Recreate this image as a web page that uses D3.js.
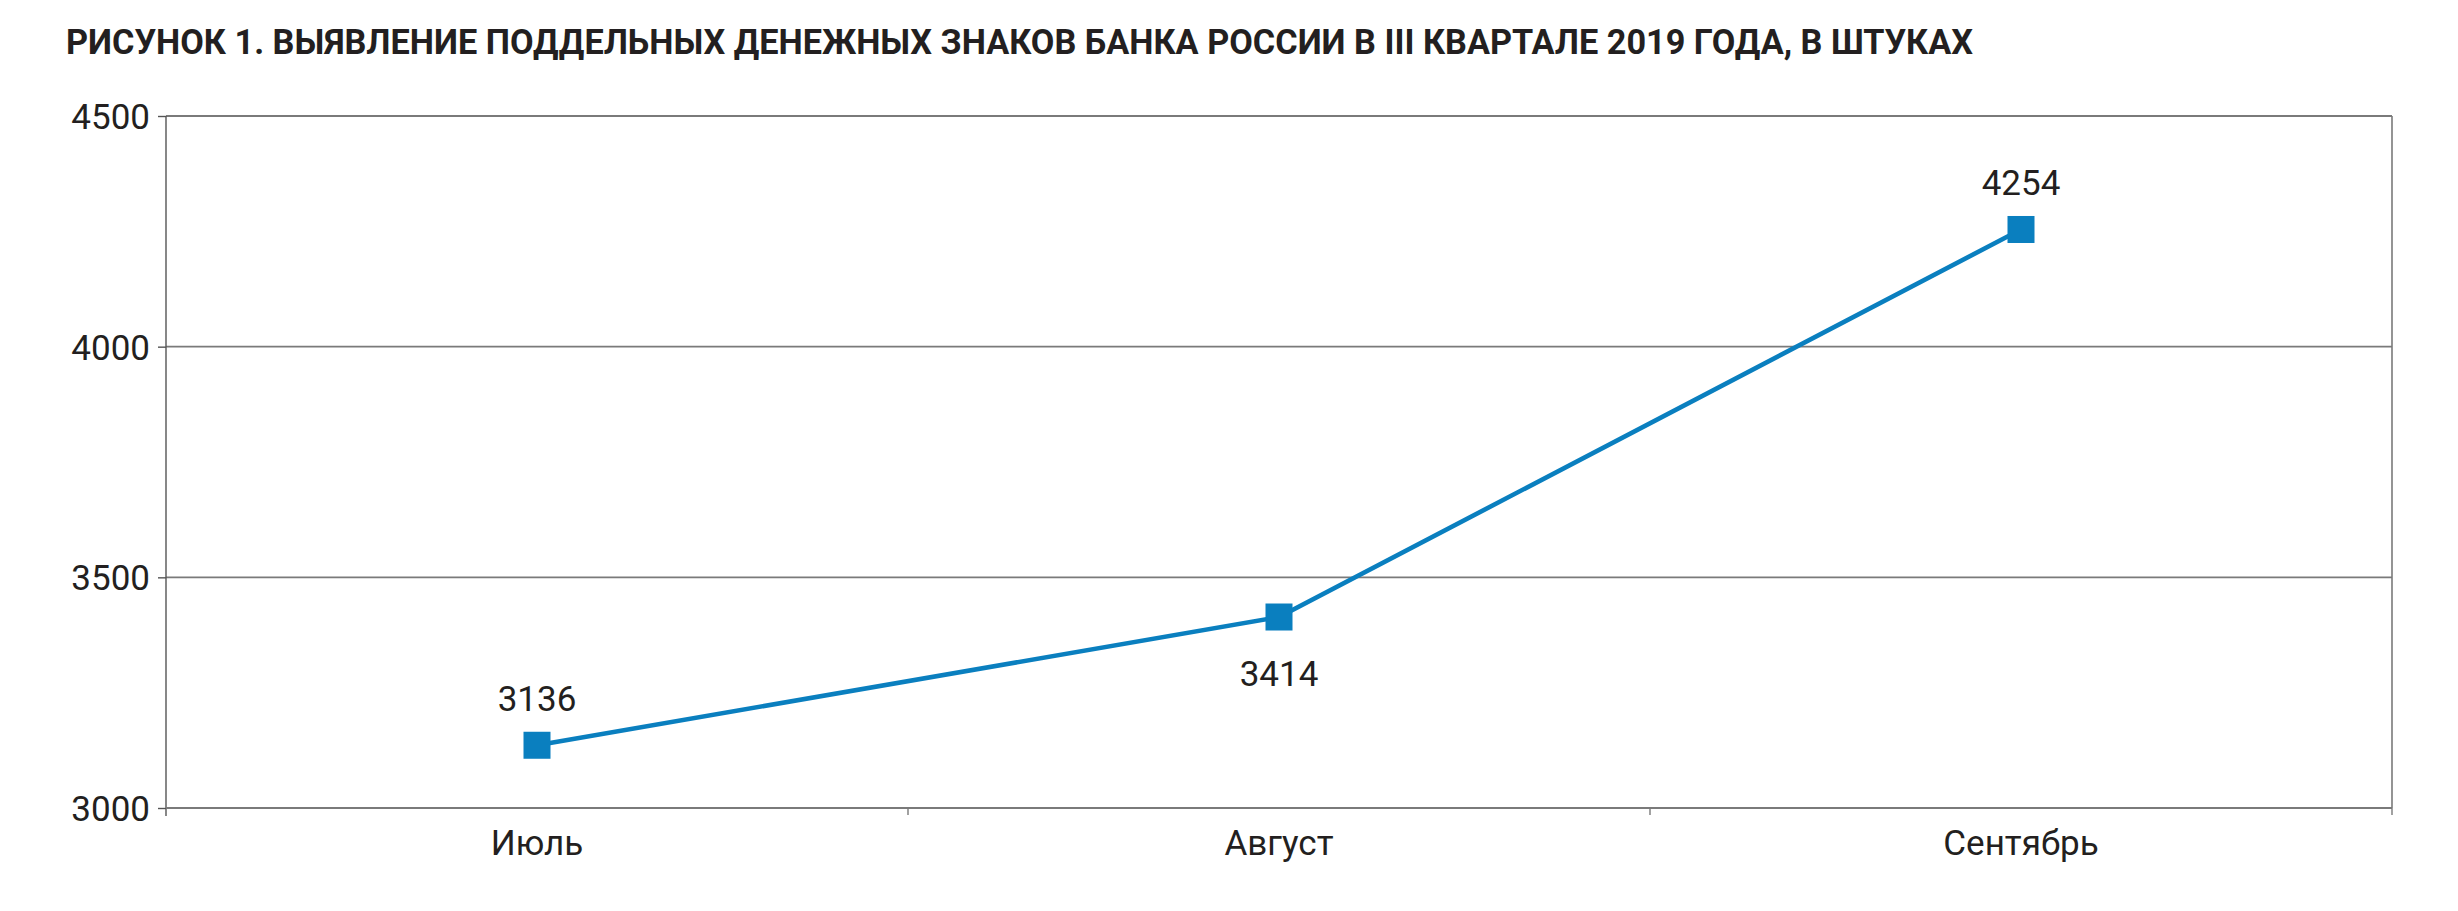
<!DOCTYPE html>
<html lang="ru">
<head>
<meta charset="utf-8">
<script src="https://cdn.jsdelivr.net/npm/d3@7"></script>
<style>
  html, body { margin: 0; padding: 0; background: #ffffff; }
  svg { display: block; }
  text { font-family: Roboto, "Liberation Sans", Arial, sans-serif; fill: #231f20; }
</style>
</head>
<body>
<svg id="chart" width="2458" height="911"></svg>
<script>
// Counterfeit Bank of Russia notes detected per month, Q3 2019
const months = ["Июль", "Август", "Сентябрь"];
const counts = [3136, 3414, 4254];
const labelSide = ["above", "below", "above"];
const yTicks = [3000, 3500, 4000, 4500];
const titleText = "РИСУНОК 1. ВЫЯВЛЕНИЕ ПОДДЕЛЬНЫХ ДЕНЕЖНЫХ ЗНАКОВ БАНКА РОССИИ В III КВАРТАЛЕ 2019 ГОДА, В ШТУКАХ";

const svg = d3.select("#chart");
const margin = { left: 166, right: 66, top: 116, bottom: 103 };
const W = 2458, H = 911;
const innerW = W - margin.left - margin.right;
const innerH = H - margin.top - margin.bottom;
const lineColor = "#0a7fbf";

svg.append("text")
  .attr("x", 66)
  .attr("y", 54)
  .attr("font-size", 35)
  .attr("font-weight", 700)
  .attr("textLength", 1907)
  .attr("lengthAdjust", "spacingAndGlyphs")
  .text(titleText);

const g = svg.append("g").attr("transform", `translate(${margin.left},${margin.top})`);

const x = d3.scaleBand().domain(months).range([0, innerW]).paddingInner(0).paddingOuter(0);
const y = d3.scaleLinear().domain([3000, 4500]).range([innerH, 0]);

// horizontal gridlines
g.append("g")
  .selectAll("line")
  .data(yTicks.filter(v => v > 3000))
  .join("line")
  .attr("x1", 0).attr("x2", innerW)
  .attr("y1", d => y(d)).attr("y2", d => y(d))
  .attr("stroke", "#7a7a7a")
  .attr("stroke-width", 1.8);

// right border
g.append("line")
  .attr("x1", innerW).attr("x2", innerW)
  .attr("y1", 0).attr("y2", innerH)
  .attr("stroke", "#7a7a7a")
  .attr("stroke-width", 1.6);

// y axis
const yAxis = g.append("g")
  .call(d3.axisLeft(y).tickValues(yTicks).tickSize(8).tickPadding(8).tickFormat(d3.format("d")));
yAxis.select(".domain").attr("stroke", "#555").attr("stroke-width", 1.4)
  .attr("d", `M0,0V${innerH + 8}`);
yAxis.selectAll(".tick line").attr("stroke", "#555").attr("stroke-width", 1.4);
yAxis.selectAll(".tick text")
  .attr("font-size", 35)
  .attr("font-family", "Roboto, 'Liberation Sans', Arial, sans-serif")
  .attr("fill", "#231f20")
  .attr("dy", "0.36em");

// x axis with ticks at category boundaries
const xAxis = g.append("g").attr("transform", `translate(0,${innerH})`);
xAxis.append("line")
  .attr("x1", 0).attr("x2", innerW)
  .attr("y1", 0).attr("y2", 0)
  .attr("stroke", "#7a7a7a")
  .attr("stroke-width", 1.8);
const boundaries = months.map(m => x(m)).concat([x(months[months.length - 1]) + x.bandwidth()]);
xAxis.selectAll("line.tk")
  .data(boundaries.slice(1))
  .join("line")
  .attr("class", "tk")
  .attr("x1", d => d).attr("x2", d => d)
  .attr("y1", 0).attr("y2", 7)
  .attr("stroke", "#7a7a7a")
  .attr("stroke-width", 1.4);
xAxis.selectAll("text.cat")
  .data(months)
  .join("text")
  .attr("class", "cat")
  .attr("x", d => x(d) + x.bandwidth() / 2)
  .attr("y", 47)
  .attr("text-anchor", "middle")
  .attr("font-size", 35)
  .text(d => d);

// series line
const pts = months.map((m, i) => ({ m, v: counts[i], side: labelSide[i] }));
const line = d3.line()
  .x(d => x(d.m) + x.bandwidth() / 2)
  .y(d => y(d.v));
g.append("path")
  .datum(pts)
  .attr("d", line)
  .attr("fill", "none")
  .attr("stroke", lineColor)
  .attr("stroke-width", 4.6);

// square markers
const sz = 27;
g.selectAll("rect.mk")
  .data(pts)
  .join("rect")
  .attr("class", "mk")
  .attr("x", d => x(d.m) + x.bandwidth() / 2 - sz / 2)
  .attr("y", d => y(d.v) - sz / 2)
  .attr("width", sz)
  .attr("height", sz)
  .attr("fill", lineColor);

// value labels
g.selectAll("text.val")
  .data(pts)
  .join("text")
  .attr("class", "val")
  .attr("x", d => x(d.m) + x.bandwidth() / 2)
  .attr("y", d => y(d.v) + (d.side === "above" ? -34 : 69))
  .attr("text-anchor", "middle")
  .attr("font-size", 35)
  .text(d => d.v);
</script>
</body>
</html>
